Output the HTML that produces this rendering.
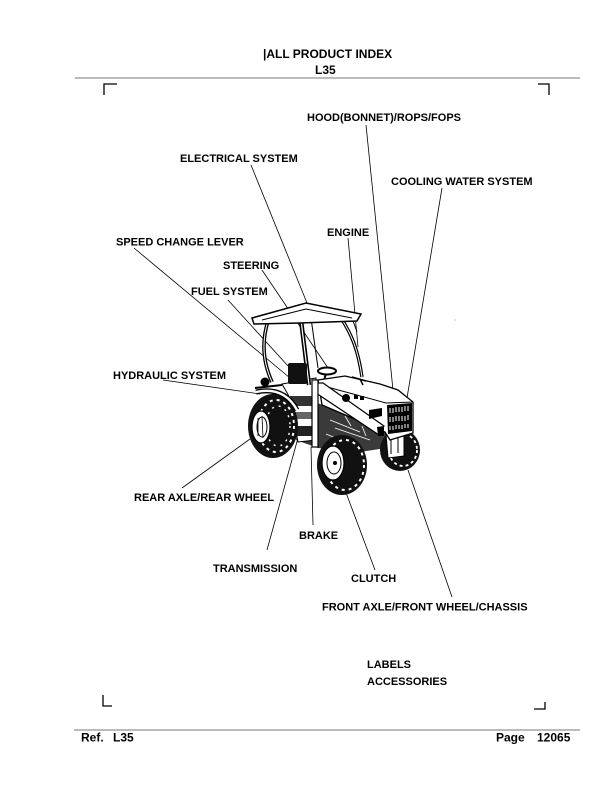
<!DOCTYPE html>
<html>
<head>
<meta charset="utf-8">
<style>
  html,body{margin:0;padding:0;background:#fff;}
  body{width:612px;height:792px;overflow:hidden;position:relative;}
  svg{position:absolute;left:0;top:0;}
  text{font-family:"Liberation Sans",Arial,sans-serif;font-weight:bold;fill:#000;}
</style>
</head>
<body>
<svg width="612" height="792" viewBox="0 0 612 792" xmlns="http://www.w3.org/2000/svg">
  <!-- header -->
  <text x="263" y="58" font-size="12">|ALL PRODUCT INDEX</text>
  <text x="315" y="74" font-size="12">L35</text>
  <line x1="75" y1="78" x2="580" y2="78" stroke="#777" stroke-width="1"/>

  <!-- corner marks -->
  <g stroke="#000" stroke-width="1.3" fill="none">
    <path d="M104,95 V84 H117"/>
    <path d="M538,84 H549 V95"/>
    <path d="M103,695 V706 H112"/>
    <path d="M534,709 H545 V702"/>
  </g>

  <!-- leader lines -->
  <g stroke="#000" stroke-width="0.8" fill="none">
    <line x1="366" y1="125" x2="393" y2="390"/>
    <line x1="251" y1="165" x2="307" y2="303"/>
    <line x1="442" y1="188" x2="407" y2="398"/>
    <line x1="348" y1="238" x2="358" y2="347"/>
    <line x1="134" y1="248" x2="290" y2="378"/>
    <line x1="262" y1="270" x2="328" y2="368"/>
    <line x1="228" y1="300" x2="288" y2="366"/>
    <line x1="163" y1="380" x2="260" y2="394"/>
    <line x1="182" y1="488" x2="250" y2="439"/>
    <line x1="267" y1="550" x2="298" y2="438"/>
    <line x1="313" y1="525" x2="311" y2="447"/>
    <line x1="375" y1="570" x2="345" y2="490"/>
    <line x1="452" y1="597" x2="408" y2="470"/>
  </g>

  <!-- tractor -->
  <g>
    <!-- chassis -->
    <polygon points="300,396 385,430 392,447 360,452 318,448 296,440" fill="#3a3a3a"/>
    <g stroke="#fff" stroke-width="0.8" fill="none">
      <path d="M330,420 L360,432 M335,428 L370,440 M326,434 L350,444 M345,416 l6,10 M362,426 l4,10"/>
    </g>
    <!-- front right wheel -->
    <ellipse cx="400" cy="450" rx="20" ry="21" fill="#111"/>
    <ellipse cx="403" cy="450" rx="14" ry="16" fill="none" stroke="#fff" stroke-width="1.8" stroke-dasharray="3 3"/>
    <!-- front weight bracket -->
    <polygon points="386,434 404,432 404,456 388,458" fill="#fff" stroke="#000" stroke-width="1"/>
    <path d="M391,440 V454 M398,438 V453" stroke="#000" stroke-width="1"/>

    <!-- rear platform -->
    <polygon points="282,384 316,378 316,440 298,442 290,398" fill="#fff" stroke="#000" stroke-width="1"/>
    <rect x="290" y="396" width="22" height="10" fill="#333"/>
    <rect x="294" y="412" width="18" height="7" fill="#666"/>
    <rect x="296" y="426" width="16" height="10" fill="#222"/>

    <!-- posts -->
    <path d="M268,321 C262,340 262,360 272,382" stroke="#000" stroke-width="3.6" fill="none"/>
    <path d="M268,321 C262,340 262,360 272,382" stroke="#fff" stroke-width="1" fill="none"/>
    <path d="M300,312 L309,385" stroke="#000" stroke-width="4.4" fill="none"/>
    <path d="M300,312 L309,385" stroke="#fff" stroke-width="1.2" fill="none"/>
    <path d="M341,318 C352,335 358,350 362,377" stroke="#000" stroke-width="3.4" fill="none"/>
    <path d="M341,318 C352,335 358,350 362,377" stroke="#fff" stroke-width="1" fill="none"/>
    <path d="M311,318 L318,368" stroke="#000" stroke-width="1" fill="none"/>
    <path d="M352,318 L357,332" stroke="#000" stroke-width="1" fill="none"/>

    <!-- roof -->
    <polygon points="252,318 306,303 361,314 357,321 300,323 254,324" fill="#fff" stroke="#000" stroke-width="1.5"/>
    <path d="M262,320 L306,309 L352,318" stroke="#000" stroke-width="1" fill="none"/>

    <!-- seat & steering -->
    <rect x="288" y="363" width="19" height="21" rx="2" fill="#111"/>
    <path d="M326,374 L322,386" stroke="#000" stroke-width="2" fill="none"/>
    <ellipse cx="327" cy="371" rx="9" ry="3.5" fill="#fff" stroke="#000" stroke-width="2"/>

    <!-- hood -->
    <polygon points="318,380 345,376 380,384 398,390 413,402 413,433 390,440 385,432 322,405" fill="#fff" stroke="#000" stroke-width="1.3"/>
    <path d="M320,385 L386,403 L413,402" stroke="#000" stroke-width="1" fill="none"/>
    <path d="M352,377 L366,381 M360,379 L363,385" stroke="#000" stroke-width="1.5" fill="none"/>
    <!-- side frame bar -->
    <polygon points="316,383 323,383 384,426 379,435 316,393" fill="#fff" stroke="#000" stroke-width="1.2"/>
    <polygon points="377,427 384,426 384,436 378,436" fill="#000"/>
    <circle cx="346" cy="398" r="4" fill="#000"/>
    <rect x="354" y="395" width="4" height="4" fill="#000"/>
    <rect x="360" y="396" width="4" height="4" fill="#000"/>
    <polygon points="369,410 382,408 382,416 369,419" fill="#000"/>
    <!-- grille -->
    <polygon points="387,405 412,403 412,431 388,434" fill="#000"/>
    <g stroke="#fff" stroke-width="1">
      <path d="M390,408 V413 M393,408 V413 M396,407 V412 M399,407 V412 M402,407 V412 M405,406 V411 M408,406 V411"/>
      <path d="M390,417 V422 M393,417 V422 M396,416 V421 M399,416 V421 M402,416 V421 M405,416 V421 M408,415 V420"/>
      <path d="M390,426 V430 M393,426 V430 M396,425 V429 M399,425 V429 M402,425 V429 M405,424 V428 M408,424 V428"/>
    </g>

    <!-- rear wheel -->
    <ellipse cx="273" cy="426" rx="25" ry="32" fill="#111"/>
    <ellipse cx="276" cy="426" rx="18" ry="26" fill="none" stroke="#fff" stroke-width="2" stroke-dasharray="3 4"/>
    <ellipse cx="278" cy="426" rx="12" ry="20" fill="none" stroke="#fff" stroke-width="1.4" stroke-dasharray="2 5"/>
    <ellipse cx="261" cy="427" rx="9" ry="16" fill="#fff" stroke="#000" stroke-width="1.2"/>
    <ellipse cx="262" cy="427" rx="5" ry="10" fill="none" stroke="#000" stroke-width="1"/>
    <path d="M258,418 L258,436 M262,416 L263,438" stroke="#000" stroke-width="0.8"/>
    <!-- rear fender & tail light -->
    <path d="M256,392 Q284,386 297,410" stroke="#000" stroke-width="5" fill="none"/>
    <path d="M256,392 Q284,386 297,410" stroke="#fff" stroke-width="2.4" fill="none"/>
    <circle cx="265" cy="382" r="4.5" fill="#000"/>
    <path d="M255,388 L282,385" stroke="#000" stroke-width="2" fill="none"/>

    <!-- vertical step post -->
    <rect x="312" y="380" width="6" height="67" fill="#fff" stroke="#000" stroke-width="1.2"/>

    <!-- front left wheel -->
    <ellipse cx="342" cy="465" rx="25" ry="30" fill="#111"/>
    <ellipse cx="345" cy="465" rx="19" ry="25" fill="none" stroke="#fff" stroke-width="2" stroke-dasharray="3 4"/>
    <ellipse cx="333" cy="463" rx="11" ry="17" fill="#fff" stroke="#000" stroke-width="1.2"/>
    <ellipse cx="334" cy="463" rx="7" ry="11" fill="none" stroke="#000" stroke-width="1"/>
    <circle cx="335" cy="463" r="2" fill="#000"/>
  </g>

  <circle cx="455" cy="320" r="0.6" fill="#999"/>

  <!-- labels -->
  <g font-size="11">
    <text x="307" y="121">HOOD(BONNET)/ROPS/FOPS</text>
    <text x="180" y="162">ELECTRICAL SYSTEM</text>
    <text x="391" y="185">COOLING WATER SYSTEM</text>
    <text x="327" y="236">ENGINE</text>
    <text x="116" y="245.5">SPEED CHANGE LEVER</text>
    <text x="223" y="269">STEERING</text>
    <text x="191" y="295">FUEL SYSTEM</text>
    <text x="113" y="379">HYDRAULIC SYSTEM</text>
    <text x="134" y="501">REAR AXLE/REAR WHEEL</text>
    <text x="299" y="539">BRAKE</text>
    <text x="213" y="572">TRANSMISSION</text>
    <text x="351" y="582">CLUTCH</text>
    <text x="322" y="610.5">FRONT AXLE/FRONT WHEEL/CHASSIS</text>
    <text x="367" y="668">LABELS</text>
    <text x="367" y="685">ACCESSORIES</text>
  </g>

  <!-- footer -->
  <line x1="74" y1="730" x2="580" y2="730" stroke="#777" stroke-width="1"/>
  <g font-size="12">
    <text x="81" y="741.5">Ref.</text>
    <text x="113" y="741.5">L35</text>
    <text x="496" y="741.5">Page</text>
    <text x="537" y="741.5">12065</text>
  </g>
</svg>
</body>
</html>
